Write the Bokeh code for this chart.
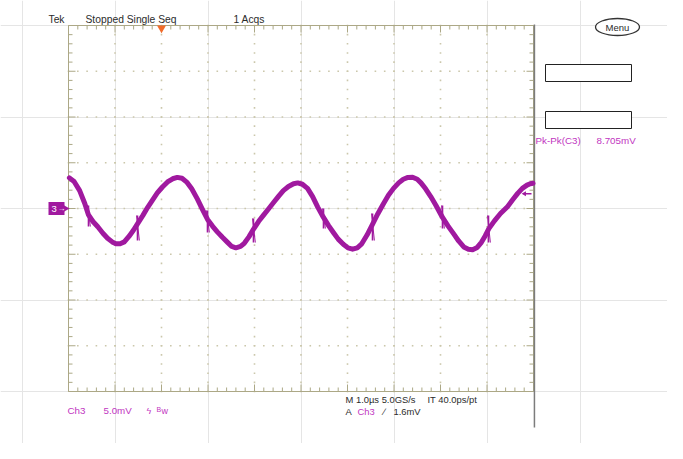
import numpy as np
from bokeh.plotting import figure
from bokeh.models import Range1d
from bokeh.core.properties import value
from bokeh.embed import file_html
from bokeh.resources import INLINE

# ---------------- data ----------------
# Ch3 trace: time in microseconds (1 us/div), voltage in mV (5 mV/div)
time_us = [-4.98, -4.88, -4.76, -4.65, -4.57, -4.47, -4.37, -4.26, -4.16, -4.06,
           -3.98, -3.89, -3.80, -3.70, -3.60, -3.52, -3.40, -3.30, -3.19, -3.09,
           -2.98, -2.87, -2.76, -2.66, -2.56, -2.45, -2.35, -2.23, -2.12, -2.01,
           -1.90, -1.80, -1.69, -1.58, -1.49, -1.40, -1.30, -1.22, -1.12, -1.02,
           -0.91, -0.81, -0.70, -0.59, -0.48, -0.38, -0.27, -0.16, -0.07, 0.03,
           0.14, 0.25, 0.36, 0.48, 0.59, 0.70, 0.80, 0.91, 1.01, 1.11,
           1.21, 1.30, 1.42, 1.54, 1.65, 1.77, 1.88, 1.99, 2.10, 2.20,
           2.30, 2.40, 2.50, 2.58, 2.68, 2.79, 2.90, 3.04, 3.16, 3.28,
           3.39, 3.50, 3.60, 3.69, 3.79, 3.88, 3.96, 4.04, 4.16, 4.29,
           4.44, 4.56, 4.66, 4.76, 4.86, 4.93, 4.99]
ch3_mV = [3.35, 2.95, 1.95, 0.55, -0.70, -1.45, -2.00, -2.70, -3.25, -3.65,
          -3.85, -3.85, -3.65, -3.05, -2.35, -1.70, -0.75, 0.10, 0.95, 1.70,
          2.35, 2.90, 3.25, 3.40, 3.30, 2.85, 2.15, 1.05, -0.10, -1.20,
          -1.95, -2.55, -3.15, -3.70, -4.15, -4.30, -4.15, -3.80, -3.10, -2.25,
          -1.40, -0.75, -0.05, 0.65, 1.35, 1.95, 2.40, 2.70, 2.80, 2.65,
          2.20, 1.30, 0.15, -0.95, -1.85, -2.65, -3.35, -3.90, -4.30, -4.45,
          -4.30, -3.90, -2.90, -1.70, -0.60, 0.50, 1.45, 2.20, 2.80, 3.20,
          3.40, 3.42, 3.20, 2.80, 2.15, 1.30, 0.35, -0.95, -1.90, -2.75,
          -3.55, -4.20, -4.45, -4.50, -4.25, -3.70, -3.00, -2.20, -1.35, -0.55,
          0.20, 1.00, 1.65, 2.20, 2.55, 2.70, 2.75]
# switching-noise bursts on the trace
spike_time_us = [-4.570, -3.516, -2.011, -1.022, 0.484, 1.538, 3.043, 4.032]
spike_high_mV = [0.33, -0.77, -0.22, -1.09, 0.00, -0.55, 0.33, -0.77]
spike_low_mV = [-1.97, -3.50, -2.62, -3.72, -2.19, -3.50, -2.19, -3.72]

trigger_level_mV = 1.6
trigger_pos_us = -3.0
status_texts = ["Tek", "Stopped  Single Seq", "1 Acqs"]
meas_label, meas_value = "Pk-Pk(C3)", "8.705mV"
ch_label, ch_scale = "Ch3", "5.0mV"
horiz_text, interp_text = "M 1.0\u00b5s 5.0GS/s", "IT 40.0ps/pt"
trig_src, trig_val = "Ch3", "1.6mV"

# ---------------- layout ----------------
W, H, OFF = 667, 443, 0
GX0, GX1, GY0, GY1 = 68, 533, 25, 391
SX = (GX1 - GX0) / 10.0
SY = (GY1 - GY0) / 40.0


def X(px):
    return (px - GX0) / SX - 5.0


def Y(py):
    return 20.0 - (py - GY0) / SY


p = figure(width=W, height=H, x_range=Range1d(X(OFF), X(OFF + W)),
           y_range=Range1d(Y(OFF + H), Y(OFF)), min_border=0,
           toolbar_location=None, output_backend="svg",
           x_axis_location=None, y_axis_location=None)
p.outline_line_color = None
p.background_fill_color = "white"
p.border_fill_color = "white"

OLIVE = "#aca886"
DOT = "#cbc7ab"
MAG = "#a0199f"
MAGT = "#bf35bf"
DARK = "#2b2b2b"

# grid dots
vt = np.arange(-4, 5)
vv = np.linspace(-20, 20, 41)
gx, gy = np.meshgrid(vt, vv)
p.scatter(gx.ravel(), gy.ravel(), marker="square", size=1.6, color=DOT, line_color=None)
ht = np.linspace(-5, 5, 51)
hv = np.arange(-15, 20, 5)
gx, gy = np.meshgrid(ht, hv)
p.scatter(gx.ravel(), gy.ravel(), marker="square", size=1.6, color=DOT, line_color=None)

# border
p.quad(left=[-5], right=[5], bottom=[-20], top=[20], fill_color=None, line_color=OLIVE, line_width=1)
# ticks
tmin = np.linspace(-5, 5, 51)
tlen = np.where(np.isclose(tmin, np.round(tmin)), 7.0, 4.0) / SY
p.segment(tmin, np.full_like(tmin, 20), tmin, 20 - tlen, line_color=OLIVE, line_width=1)
p.segment(tmin, np.full_like(tmin, -20), tmin, -20 + tlen, line_color=OLIVE, line_width=1)
vmin = np.linspace(-20, 20, 41)
vlen = np.where(np.isclose(vmin % 5, 0), 7.0, 4.0) / SX
p.segment(np.full_like(vmin, -5), vmin, -5 + vlen, vmin, line_color=OLIVE, line_width=1)
p.segment(np.full_like(vmin, 5), vmin, 5 - vlen, vmin, line_color=OLIVE, line_width=1)
# right dark line
p.segment([5.02], [Y(24)], [5.02], [Y(427)], line_color="#7c7c7c", line_width=1.5)

# trace
p.line(time_us, ch3_mV, line_width=5, line_color=MAG, line_join="round", line_cap="round")
p.segment(spike_time_us, spike_low_mV, spike_time_us, spike_high_mV, line_color=MAG, line_width=1.6)
p.segment([t + 0.04 for t in spike_time_us], spike_low_mV,
          [t - 0.02 for t in spike_time_us], spike_high_mV, line_color=MAG, line_width=1.0)

# trigger level arrow (right edge)
p.segment([X(524)], [trigger_level_mV], [X(531)], [trigger_level_mV], line_color=MAG, line_width=1.5)
p.scatter([X(524)], [trigger_level_mV], marker="triangle", angle=np.pi / 2, size=5,
          color=MAG, line_color=None)


def txt(px, py, s, color=DARK, size="10.3px", align="left", style="normal"):
    p.text(x=[X(px)], y=[Y(py)], text=[s], text_color=color,
           text_font=value("Liberation Sans"), text_font_size=size,
           text_baseline="middle", text_align=align, text_font_style=style)


# top status line
txt(48, 19, status_texts[0])
txt(85, 19, status_texts[1])
txt(233, 19, status_texts[2])
p.scatter([trigger_pos_us], [Y(27.5)], marker="inverted_triangle", size=9,
          color="#f26b2a", line_color=None)

# channel marker
p.quad(left=[X(48)], right=[X(64)], top=[Y(201.5)], bottom=[Y(214.5)], fill_color=MAG, line_color=None)
p.scatter([X(65)], [0], marker="triangle", angle=-np.pi / 2, size=7, color=MAG, line_color=None)
txt(51, 208.5, "3", color="white", size="9.5px")
txt(57, 207.5, "\u2192", color="white", size="8px")

# right panel
p.ellipse(x=[X(617)], y=[Y(26.5)], width=44, height=17, width_units="screen",
          height_units="screen", fill_color="white", line_color="#333333", line_width=1.3)
txt(617, 26.5, "Menu", size="9.5px", align="center")
p.quad(left=[X(545)], right=[X(631)], top=[Y(64)], bottom=[Y(81)], fill_color="white",
       line_color="#222222", line_width=1)
p.quad(left=[X(545)], right=[X(631)], top=[Y(111)], bottom=[Y(128)], fill_color="white",
       line_color="#222222", line_width=1)
txt(535, 140, meas_label, color=MAGT, size="9.8px")
txt(596, 140, meas_value, color=MAGT, size="9.8px")

# bottom readouts
txt(67, 410, ch_label, color=MAGT, size="9.8px")
txt(103, 410, ch_scale, color=MAGT, size="9.8px")
txt(146, 410, "\u03df", color=MAGT, size="9px")
txt(156, 409, "B", color=MAGT, size="7px")
txt(161, 410.5, "w", color=MAGT, size="9px")
txt(345, 399, horiz_text, size="9.4px")
txt(427, 399, interp_text, size="9.4px")
txt(345, 411, "A", size="9.4px")
txt(357, 411, trig_src, color=MAGT, size="9.4px")
txt(383, 411, "\u2215", size="9.4px")
txt(393, 411, trig_val, size="9.4px")

open("out.html", "w").write(file_html(p, INLINE))
